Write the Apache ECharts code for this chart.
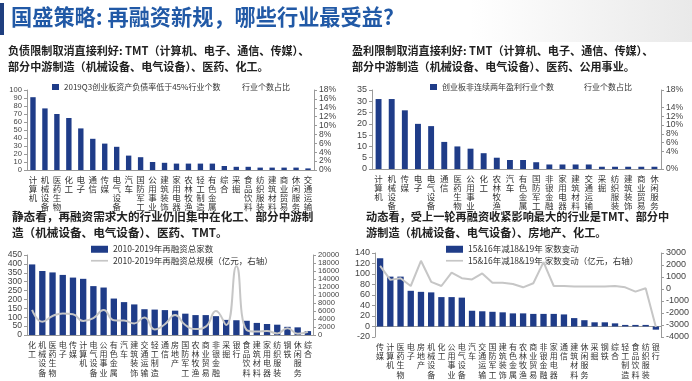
<!DOCTYPE html>
<html><head><meta charset="utf-8">
<script src="https://cdn.jsdelivr.net/npm/echarts@6/dist/echarts.min.js"></script>
<style>html,body{margin:0;padding:0;background:#fff}#c{width:692px;height:381px}</style>
</head><body><div id="c"></div>
<script>
// Panel 1: 2019Q3创业板资产负债率低于45%行业个数
const cat1 = ['计算机','机械设备','医药生物','化工','电子','通信','传媒','电气设备','汽车','国防军工','公用事业','建筑装饰','家用电器','农林牧渔','轻工制造','有色金属','综合','采掘','食品饮料','纺织服装','建筑材料','商业贸易','休闲服务','交通运输'];
const val1 = [91,77,70,65,52,39,33,29,18,16,10,9,8,8,8,8,5,4,4,3,3,3,3,2];

// Panel 2: 创业板非连续两年盈利行业个数
const cat2 = ['计算机','机械设备','传媒','电子','电气设备','通信','医药生物','公用事业','化工','农林牧渔','汽车','有色金属','国防军工','非银金融','家用电器','建筑材料','交通运输','采掘','纺织服装','建筑装饰','商业贸易','休闲服务'];
const val2 = [31,31,26,20,19,12,10,9,7,5,4,4,3,2,2,2,2,1,1,1,1,1];

// Panel 3: 2010-2019年再融资
const cat3 = ['化工','机械设备','医药生物','电子','传媒','计算机','电气设备','公用事业','有色金属','汽车','建筑装饰','交通运输','轻工制造','通信','房地产','国防军工','农林牧渔','商业贸易','非银金融','采掘','银行','食品饮料','建筑材料','家用电器','纺织服装','钢铁','休闲服务','综合'];
const count3 = [397,360,352,338,323,316,275,267,205,185,172,145,143,140,137,120,112,112,106,85,83,80,68,62,58,46,43,22];
const scale3 = [6300,3300,4750,5400,5200,3500,4200,6250,3700,3600,2900,4400,1400,2700,5000,2500,1500,2100,6000,2500,17200,1250,850,1000,400,1700,300,800];

// Panel 4: 15&16年减18&19年变动
const cat4 = ['传媒','计算机','医药生物','电子','房地产','机械设备','化工','公用事业','电气设备','汽车','交通运输','国防军工','建筑装饰','有色金属','农林牧渔','商业贸易','非银金融','家用电器','通信','建筑材料','休闲服务','采掘','钢铁','综合','轻工制造','食品饮料','纺织服装','银行'];
const count4 = [130,95,95,68,66,65,56,56,55,30,29,28,27,25,25,24,24,24,23,16,12,8,8,6,3,3,3,-6];
const scale4 = [1930,760,900,250,2350,600,250,1370,900,800,1300,530,530,420,140,480,2240,250,250,200,200,200,200,250,140,-220,60,-3160];

const names = {
  b1:'2019Q3创业板资产负债率低于45%行业个数', p1:'行业个数占比',
  b2:'创业板非连续两年盈利行业个数', p2:'行业个数占比 ',
  b3:'2010-2019年再融资总家数', l3:'2010-2019年再融资总规模（亿元，右轴）',
  b4:'15&16年减18&19年 家数变动', l4:'15&16年减18&19年 家数变动（亿元，右轴）'
};

const BAR = '#1f3c88', LINE = '#c6c6c6', AX = '#9a9a9a';
const stack = v => v.split('').join('\n');
function catLabel(fs, lh){
  return {interval:0, formatter: stack, fontSize:fs, lineHeight:lh, color:'#333', fontFamily:'Noto Sans CJK SC', margin:5, verticalAlign:'top', hideOverlap:false};
}
function yAx(gi, min, max, interval, fmt, pos, fs){
  return {type:'value', gridIndex:gi, min, max, interval, position:pos,
    splitLine:{show:false},
    axisLine:{show:true, lineStyle:{color:AX}},
    axisTick:{show:true, length:3, lineStyle:{color:AX}},
    axisLabel:{margin:5, formatter: fmt || (v=>String(v)), fontFamily:'Liberation Sans', fontSize:fs, color:'#444', showMinLabel:true, showMaxLabel:true, hideOverlap:false}};
}
function xAx(gi, cats, fs, lh){
  return {type:'category', gridIndex:gi, data:cats,
    axisLine:{show:true, lineStyle:{color:AX}}, axisTick:{show:false},
    axisLabel:catLabel(fs, lh)};
}
const pctFmt = v => v + '%';
const LINEICON = 'path://M0,0h20v2h-20z';
const legText = {fontSize:8, color:'#333', fontFamily:'Noto Sans CJK SC'};
const subStyle = (t, fs) => ({text:t, fontSize:fs, lineHeight:16, fontWeight:'bold', fill:'#222', fontFamily:'Noto Sans CJK SC'});

const option = {
  animation:false,
  backgroundColor:'#fff',
  graphic:[
    {type:'rect', left:470, top:0, shape:{width:222, height:42}, style:{fill:new echarts.graphic.LinearGradient(0,0,1,0,[{offset:0,color:'#ffffff'},{offset:1,color:'#e9e9e9'}])}, z:-1},
    {type:'rect', left:0, top:3, shape:{width:4, height:32}, style:{fill:'#1f3f7f'}},
    {type:'text', left:11, top:6, style:{text:'国盛策略: 再融资新规，哪些行业最受益?', fontSize:21.2, fontWeight:'bold', fill:'#2159a6', fontFamily:'Noto Sans CJK SC'}},
    {type:'text', left:8, top:43, style:subStyle('负债限制取消直接利好: TMT（计算机、电子、通信、传媒）、\n部分中游制造（机械设备、电气设备）、医药、化工。', 11.1)},
    {type:'text', left:352, top:43, style:subStyle('盈利限制取消直接利好: TMT（计算机、电子、通信、传媒）、\n部分中游制造（机械设备、电气设备）、医药、公用事业。', 11.1)},
    {type:'text', left:12, top:209, style:subStyle('静态看，再融资需求大的行业仍旧集中在化工、部分中游制\n造（机械设备、电气设备）、医药、TMT。', 11.6)},
    {type:'text', left:366, top:209, style:subStyle('动态看，受上一轮再融资收紧影响最大的行业是TMT、部分中\n游制造（机械设备、电气设备）、房地产、化工。', 11.2)}
  ],
  legend:[
    {left:47, top:78, itemWidth:7, itemHeight:6, itemGap:4, textStyle:legText, data:[{name:names.b1, icon:'rect'}]},
    {left:232, top:78, itemWidth:0, itemHeight:6, textStyle:legText, data:[{name:names.p1, icon:'none'}]},
    {left:425, top:78, itemWidth:7, itemHeight:6, textStyle:legText, data:[{name:names.b2, icon:'rect'}]},
    {left:574, top:78, itemWidth:0, itemHeight:6, textStyle:legText, data:[{name:names.p2, icon:'none'}]},
    {left:86, top:240, orient:'vertical', itemWidth:17, itemHeight:7, itemGap:3, textStyle:Object.assign({}, legText, {fontSize:8.5}), data:[{name:names.b3, icon:'rect'}, {name:names.l3, icon:LINEICON}]},
    {left:441, top:240, orient:'vertical', itemWidth:17, itemHeight:7, itemGap:3, textStyle:Object.assign({}, legText, {fontSize:8.5}), data:[{name:names.b4, icon:'rect'}, {name:names.l4, icon:LINEICON}]}
  ],
  grid:[
    {left:27, top:90, width:287, height:80},
    {left:372, top:90, width:289, height:79},
    {left:27, top:255, width:286, height:80},
    {left:375, top:253, width:288, height:84}
  ],
  xAxis:[
    xAx(0, cat1, 8.5, 9), xAx(1, cat2, 8.5, 9), xAx(2, cat3, 8, 9.3),
    Object.assign(xAx(3, cat4, 8, 9.3), {axisLine:{show:false, onZero:false}}),
    {type:'category', gridIndex:3, data:cat4, position:'bottom', axisLine:{show:true, onZero:true, onZeroAxisIndex:6, lineStyle:{color:AX}}, axisTick:{show:false}, axisLabel:{show:false}}
  ],
  yAxis:[
    yAx(0, 0, 100, 10, null, 'left', 7.6),
    yAx(0, 0, 18, 2, pctFmt, 'right', 8.5),
    yAx(1, 0, 35, 5, null, 'left', 9),
    yAx(1, 0, 18, 2, pctFmt, 'right', 8.5),
    yAx(2, 0, 450, 50, null, 'left', 8.6),
    yAx(2, 0, 20000, 2000, null, 'right', 7.6),
    yAx(3, -20, 140, 20, null, 'left', 9),
    yAx(3, -4000, 3000, 1000, null, 'right', 9)
  ],
  series:[
    {name:names.b1, type:'bar', xAxisIndex:0, yAxisIndex:0, data:val1, barWidth:'45%', itemStyle:{color:BAR}},
    {name:names.p1, type:'line', xAxisIndex:0, yAxisIndex:1, data:[], symbol:'none'},
    {name:names.b2, type:'bar', xAxisIndex:1, yAxisIndex:2, data:val2, barWidth:'45%', itemStyle:{color:BAR}},
    {name:names.p2, type:'line', xAxisIndex:1, yAxisIndex:3, data:[], symbol:'none'},
    {name:names.b3, type:'bar', xAxisIndex:2, yAxisIndex:4, data:count3, barWidth:'62%', itemStyle:{color:BAR}},
    {name:names.l3, type:'line', xAxisIndex:2, yAxisIndex:5, data:scale3, smooth:true, symbol:'none', lineStyle:{color:LINE, width:2}, itemStyle:{color:LINE}, z:5},
    {name:names.b4, type:'bar', xAxisIndex:3, yAxisIndex:6, data:count4, barWidth:'62%', itemStyle:{color:BAR}},
    {name:names.l4, type:'line', xAxisIndex:4, yAxisIndex:7, data:scale4, symbol:'none', lineStyle:{color:LINE, width:2}, itemStyle:{color:LINE}, z:5}
  ]
};
const chart = echarts.init(document.getElementById('c'), null, {renderer:'canvas'});
chart.setOption(option);
</script></body></html>
